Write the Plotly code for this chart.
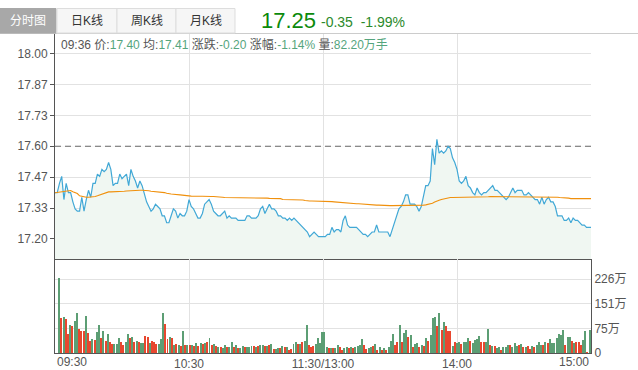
import plotly.graph_objects as go

W, H = 638, 370
def px(x): return x / W
def py(y): return 1 - y / H

FONT = "Liberation Sans, Arial, Noto Sans CJK SC, sans-serif"

price = [17.40,17.40,17.44,17.47,17.37,17.44,17.40,17.40,17.36,17.33,
         17.32,17.32,17.38,17.32,17.37,17.41,17.38,17.44,17.44,17.48,
         17.47,17.50,17.49,17.50,17.53,17.50,17.43,17.44,17.44,17.48,
         17.46,17.47,17.48,17.43,17.50,17.47,17.45,17.42,17.45,17.43,
         17.39,17.36,17.34,17.32,17.33,17.35,17.34,17.33,17.30,17.30,
         17.27,17.27,17.30,17.33,17.32,17.29,17.31,17.30,17.30,17.32,
         17.37,17.34,17.33,17.31,17.29,17.29,17.31,17.35,17.36,17.37,
         17.35,17.32,17.31,17.30,17.30,17.31,17.32,17.29,17.30,17.29,
         17.29,17.29,17.28,17.28,17.28,17.28,17.30,17.30,17.29,17.29,
         17.29,17.30,17.33,17.34,17.31,17.33,17.35,17.33,17.33,17.32,
         17.30,17.30,17.29,17.29,17.28,17.29,17.28,17.29,17.28,17.27,
         17.26,17.25,17.24,17.23,17.21,17.22,17.23,17.22,17.21,17.21,
         17.21,17.21,17.22,17.22,17.25,17.23,17.24,17.24,17.23,17.28,
         17.30,17.26,17.25,17.25,17.25,17.25,17.24,17.23,17.22,17.22,
         17.21,17.22,17.23,17.23,17.26,17.23,17.23,17.23,17.23,17.23,
         17.21,17.24,17.26,17.30,17.33,17.34,17.36,17.39,17.39,17.35,
         17.35,17.35,17.34,17.32,17.34,17.39,17.43,17.43,17.45,17.59,
         17.52,17.63,17.57,17.58,17.57,17.58,17.60,17.59,17.55,17.53,
         17.50,17.45,17.44,17.45,17.47,17.43,17.42,17.40,17.39,17.42,
         17.40,17.39,17.40,17.40,17.41,17.42,17.43,17.41,17.41,17.40,
         17.39,17.38,17.37,17.38,17.40,17.42,17.40,17.41,17.41,17.41,
         17.39,17.39,17.40,17.39,17.38,17.37,17.37,17.35,17.38,17.35,
         17.37,17.38,17.36,17.36,17.34,17.30,17.30,17.30,17.28,17.28,
         17.29,17.27,17.29,17.28,17.28,17.27,17.26,17.26,17.25,17.25,
         17.25]

avg = [17.399,17.400,17.401,17.403,17.404,17.406,17.407,17.409,17.404,17.400,
       17.396,17.386,17.383,17.380,17.380,17.380,17.380,17.381,17.383,17.386,
       17.390,17.394,17.397,17.400,17.403,17.403,17.403,17.403,17.404,17.405,
       17.405,17.406,17.407,17.408,17.409,17.410,17.410,17.410,17.410,17.410,
       17.410,17.410,17.408,17.406,17.405,17.405,17.404,17.404,17.403,17.400,
       17.397,17.394,17.394,17.393,17.393,17.392,17.390,17.389,17.387,17.386,
       17.386,17.385,17.384,17.384,17.384,17.384,17.384,17.383,17.383,17.383,
       17.383,17.383,17.383,17.381,17.380,17.380,17.379,17.379,17.378,17.378,
       17.377,17.377,17.377,17.377,17.377,17.377,17.377,17.376,17.376,17.376,
       17.376,17.376,17.376,17.376,17.376,17.376,17.375,17.375,17.375,17.375,
       17.375,17.374,17.370,17.370,17.370,17.370,17.370,17.369,17.369,17.369,
       17.369,17.368,17.366,17.364,17.364,17.364,17.364,17.364,17.364,17.364,
       17.364,17.363,17.363,17.362,17.361,17.360,17.359,17.358,17.357,17.355,
       17.354,17.354,17.353,17.353,17.352,17.352,17.352,17.351,17.350,17.349,
       17.347,17.347,17.347,17.346,17.346,17.346,17.345,17.345,17.345,17.345,
       17.344,17.344,17.344,17.344,17.344,17.344,17.344,17.343,17.343,17.343,
       17.343,17.343,17.344,17.345,17.345,17.346,17.347,17.349,17.352,17.354,
       17.359,17.364,17.367,17.370,17.373,17.375,17.377,17.379,17.379,17.379,
       17.379,17.380,17.380,17.380,17.380,17.380,17.380,17.380,17.380,17.380,
       17.380,17.380,17.380,17.381,17.382,17.383,17.383,17.383,17.383,17.383,
       17.383,17.383,17.383,17.383,17.383,17.383,17.383,17.383,17.383,17.383,
       17.383,17.383,17.383,17.383,17.383,17.382,17.382,17.382,17.382,17.382,
       17.382,17.382,17.381,17.381,17.381,17.380,17.379,17.379,17.378,17.377,
       17.376,17.374,17.374,17.374,17.374,17.374,17.374,17.374,17.374,17.374,
       17.374]

# volume in 万手
volume = [228,107,110,105,59,86,81,98,121,74,
          68,68,113,61,37,43,40,63,86,47,
          66,37,57,33,28,28,28,45,33,25,
          33,57,45,49,33,38,35,30,30,52,
          49,31,37,33,28,27,43,122,89,43,
          49,45,23,28,25,22,68,25,23,23,
          25,21,30,21,30,28,30,33,45,23,
          28,20,19,17,15,25,18,19,33,19,
          25,15,15,22,17,17,19,20,20,19,
          21,23,25,21,21,25,27,13,13,15,
          15,20,19,17,10,13,27,33,29,27,
          33,37,87,23,17,20,27,45,
          30,64,64,18,15,15,15,15,25,17,
          10,15,17,15,17,15,17,20,23,44,
          23,13,15,17,20,27,10,17,10,15,
          10,17,37,59,23,33,86,33,61,71,
          48,56,17,27,30,17,23,20,46,37,
          56,106,109,81,122,71,94,81,68,66,
          20,
          35,30,33,27,33,33,46,37,30,40,
          44,53,33,33,33,74,23,20,20,15,
          17,10,17,18,23,25,18,30,20,23,
          27,17,17,20,13,20,17,25,35,25,
          23,33,30,44,30,30,46,58,56,71,
          25,48,48,37,30,35,33,25,40,66,
          3,71]

vol_dir = ("grgrrgrggr" "rrgrrgrggr" "grgrrgggrr" "ggrgrgrggr" "rgrrrgggrr"
           "grgrgrgrgr" "grgrgrgrgr" "grgrggrggr" "grggrgggrg" "rggrgrgrgg"
           "rgrgrrggrg" "rggrrrgg"
           "ggggrgrggr" "rggrgrgggg" "rrggrgrgrg" "rgggrrgrgg" "rgrggrgrgr"
           "gggrgrgrrr" "g" "rggrgggrgg" "ggrrggrgrg" "grgggrgggr" "grgrrgrggg"
           "rgrggggggg" "rggrgrrrgg" "rg")

assert len(price) == 241 and len(avg) == 241
assert len(volume) == 241 and len(vol_dir) == 241

price_ticks = [17.2, 17.6 - 0.4 * 2 / 3, 17.6 - 0.4 / 3, 17.6, 17.6 + 0.4 / 3, 17.6 + 0.4 * 2 / 3, 18.0]
price_tick_text = ["17.20", "17.33", "17.47", "17.60", "17.73", "17.87", "18.00"]
pct_tick_text = ["2.27%", "1.53%", "0.74%", "0.00%", "0.74%", "1.53%", "2.27%"]
pct_colors = ["#5aa37c"] * 3 + ["#999999"] + ["#e0533f"] * 3
vol_ticks = [0, 75.33, 150.67, 226]
vol_tick_text = ["0", "75万", "151万", "226万"]
time_ticks = [60, 120, 180]
time_tick_text = ["10:30", "11:30/13:00", "14:00"]

minutes = list(range(len(price)))
RED, GREEN = "#e8472f", "#5c9e74"
bar_colors = [RED if d == "r" else GREEN for d in vol_dir]

fig = go.Figure()
fig.add_trace(go.Scatter(x=minutes, y=price, mode="lines", fill="tozeroy",
                         fillcolor="#f0f7f2", line=dict(color="#41a8d6", width=1.2),
                         xaxis="x", yaxis="y", hoverinfo="skip"))
fig.add_trace(go.Scatter(x=minutes, y=avg, mode="lines",
                         line=dict(color="#f0900c", width=1.1),
                         xaxis="x", yaxis="y", hoverinfo="skip"))
fig.add_trace(go.Bar(x=minutes, y=volume, marker=dict(color=bar_colors, line=dict(width=0)),
                     width=0.45, xaxis="x3", yaxis="y2", hoverinfo="skip"))

r = 112.5 / 231.25
xdom = [px(55), px(591)]
axis_common = dict(zeroline=False, gridcolor="#e2e2e2", gridwidth=1, automargin=False)
fig.update_layout(
    width=W, height=H, margin=dict(l=0, r=0, t=0, b=0, autoexpand=False),
    paper_bgcolor="white", plot_bgcolor="white", showlegend=False,
    font=dict(family=FONT, size=12, color="#555555"),
    bargap=0,
    xaxis=dict(domain=xdom, range=[0, 240], anchor="y", tickvals=time_ticks,
               showticklabels=False, showline=True, linecolor="#555555", linewidth=1,
               **axis_common),
    yaxis=dict(domain=[py(259), py(33.5)], range=[17.6 - r, 17.6 + r], anchor="x",
               tickvals=price_ticks, ticktext=price_tick_text, ticks="outside",
               ticklen=4, tickcolor="#555555", showline=True, linecolor="#555555",
               linewidth=1, tickfont=dict(size=12, color="#555555"), **axis_common),
    yaxis3=dict(overlaying="y", side="right", range=[17.6 - r, 17.6 + r], anchor="x",
                tickvals=price_ticks,
                ticktext=[f"<span style='color:{c}'>{t}</span>" for t, c in zip(pct_tick_text, pct_colors)],
                showgrid=False, zeroline=False, showline=True, linecolor="#555555",
                linewidth=1, ticks="", tickfont=dict(size=12), automargin=False),
    xaxis2=dict(domain=xdom, range=[0, 240], anchor="y2", tickvals=time_ticks,
                ticktext=time_tick_text, showline=True, linecolor="#555555", linewidth=1,
                ticks="", tickfont=dict(size=12, color="#555555"), **axis_common),
    xaxis3=dict(domain=xdom, range=[-1.9, 240.6], anchor="y2", overlaying="x2",
                visible=False, automargin=False),
    yaxis2=dict(domain=[py(353), py(259)], range=[0, 287.1], anchor="x2", side="right",
                tickvals=vol_ticks, ticktext=vol_tick_text, showline=True, mirror=True,
                linecolor="#555555", linewidth=1, ticks="",
                tickfont=dict(size=12, color="#555555"), **axis_common),
)

shapes = []
shapes.append(dict(type="line", xref="paper", yref="paper", x0=0, x1=1,
                   y0=py(33.5), y1=py(33.5), line=dict(color="#cccccc", width=1)))
shapes.append(dict(type="line", xref="x", yref="y", x0=0, x1=240, y0=17.6, y1=17.6,
                   line=dict(color="white", width=1.2), layer="between"))
shapes.append(dict(type="line", xref="x", yref="y", x0=0, x1=240, y0=17.6, y1=17.6,
                   line=dict(color="#666666", width=1, dash="6px,4px"), layer="between"))
tabs = [("分时图", 0, 56, "#a8a8a8", "#ffffff"),
        ("日K线", 57, 117, "#f6f6f6", "#333333"),
        ("周K线", 117, 176, "#f6f6f6", "#333333"),
        ("月K线", 176, 235, "#f6f6f6", "#333333")]
annotations = []
for label, x0, x1, bg, fg in tabs:
    shapes.append(dict(type="rect", xref="paper", yref="paper", x0=px(x0), x1=px(x1),
                       y0=py(33), y1=py(8.5), fillcolor=bg,
                       line=dict(color="#dddddd" if bg != "#a8a8a8" else bg, width=1)))
    annotations.append(dict(text=label, xref="paper", yref="paper", x=px((x0 + x1) / 2),
                            y=py(21), xanchor="center", yanchor="middle", showarrow=False,
                            font=dict(size=12, color=fg, family=FONT)))
fig.update_layout(shapes=shapes)

annotations.append(dict(text="17.25", xref="paper", yref="paper", x=px(259), y=py(21),
                        xanchor="left", yanchor="middle", showarrow=False,
                        font=dict(size=22, color="#0b8a0b", family=FONT)))
annotations.append(dict(text="-0.35  -1.99%", xref="paper", yref="paper", x=px(319), y=py(22),
                        xanchor="left", yanchor="middle", showarrow=False,
                        font=dict(size=14, color="#2b8a2b", family=FONT)))
V = "#55a57d"
info = (f"09:36 价:<span style='color:{V}'>17.40</span> 均:<span style='color:{V}'>17.41</span> "
        f"涨跌:<span style='color:{V}'>-0.20</span> 涨幅:<span style='color:{V}'>-1.14%</span> "
        f"量:<span style='color:{V}'>82.20万手</span>")
annotations.append(dict(text=info, xref="paper", yref="paper", x=px(59), y=py(45),
                        xanchor="left", yanchor="middle", showarrow=False,
                        font=dict(size=12, color="#555555", family=FONT)))
annotations.append(dict(text="09:30", xref="x2", yref="paper", x=0, y=py(362),
                        xanchor="left", yanchor="middle", showarrow=False,
                        font=dict(size=12, color="#555555", family=FONT)))
annotations.append(dict(text="15:00", xref="x2", yref="paper", x=240, y=py(362),
                        xanchor="right", yanchor="middle", showarrow=False,
                        font=dict(size=12, color="#555555", family=FONT)))
fig.update_layout(annotations=annotations)

fig.write_html("out.html", config={"displayModeBar": False},
               post_script="document.body.style.margin='0';document.body.style.overflow='hidden';")
